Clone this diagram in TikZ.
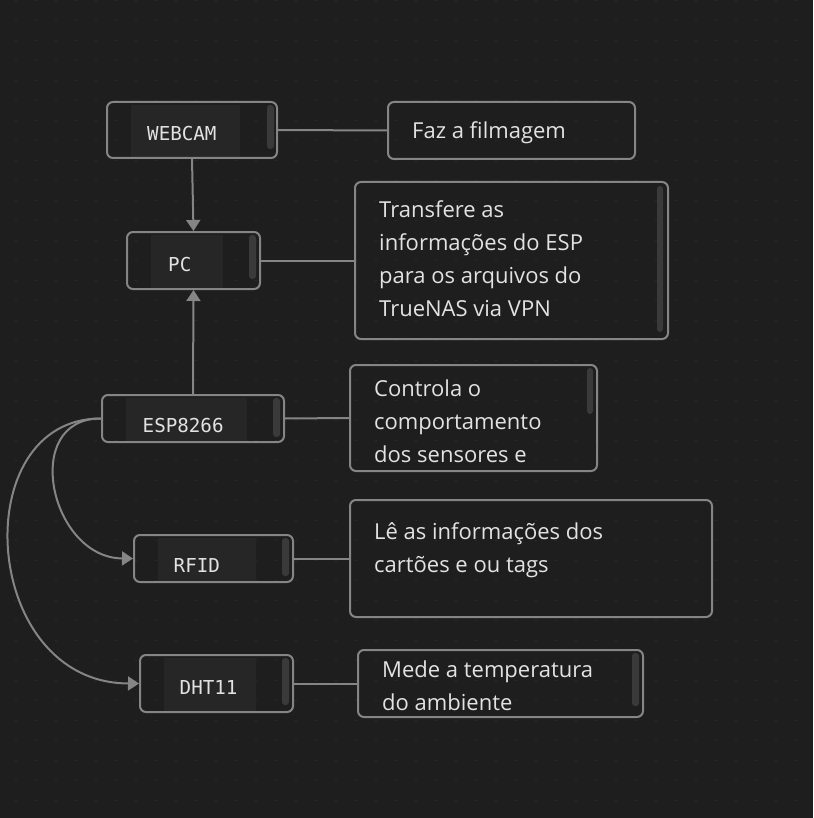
\documentclass[tikz,border=0pt]{standalone}
\usepackage{fontspec}
\setmainfont{Open Sans}
\newfontfamily\monof{DejaVu Sans Mono}
\usetikzlibrary{arrows.meta}
\definecolor{bg}{HTML}{1E1E1E}
\definecolor{dotc}{HTML}{2A2A2A}
\definecolor{edgec}{HTML}{858585}
\definecolor{innerc}{HTML}{262626}
\definecolor{scrollc}{HTML}{3A3A3A}
\definecolor{txtc}{HTML}{E2E2E2}
\tikzset{
  box/.style={draw=edgec, line width=2pt, rounded corners=6pt, inner sep=0pt, anchor=north west},
  monolabel/.style={anchor=base west, inner sep=0pt, text=txtc, font=\monof\fontsize{19.2}{22}\selectfont},
  desc/.style={anchor=base west, inner sep=0pt, text=txtc, font=\fontsize{22}{33}\selectfont},
  conn/.style={draw=edgec, line width=2pt},
  arr/.style={conn, -{Triangle[length=11pt,width=14pt]}},
  scrollbar/.style={fill=scrollc, rounded corners=3pt},
  innerbox/.style={fill=innerc}
}
\newcommand{\descbox}[1]{\parbox[t]{320pt}{\raggedright #1}}
\begin{document}
\begin{tikzpicture}[x=1pt,y=-1pt]
\fill[bg] (0,0) rectangle (813,818);
\useasboundingbox (0,0) rectangle (813,818);
\foreach \i in {0,...,39}{
  \foreach \j in {0,...,40}{
    \fill[dotc] ({16+20*\i-0.7},{0.7+20*\j-0.7}) rectangle ++(1.4,1.4);
  }
}
% ---- left boxes: inner panels and scrollbars
\fill[innerbox] (131,105) rectangle (240,157);
\fill[scrollbar] (267,105) rectangle (274,149);
\fill[innerbox] (151,235) rectangle (223,288);
\fill[scrollbar] (249,235) rectangle (256,279);
\fill[innerbox] (126,398) rectangle (247,441);
\fill[scrollbar] (273,398) rectangle (280,437);
\fill[innerbox] (158,538) rectangle (256,581);
\fill[scrollbar] (282,538) rectangle (289,576);
\fill[innerbox] (164,658) rectangle (256,711);
\fill[scrollbar] (282,658) rectangle (289,705);
% ---- right boxes scrollbars
\fill[scrollbar] (657,186) rectangle (663,332);
\fill[scrollbar] (587,368) rectangle (593,414);
\fill[scrollbar] (632,653) rectangle (639,706);
% ---- boxes
\node[box, minimum width=170pt, minimum height=56pt] (webcam) at (106,101) {};
\node[box, minimum width=133pt, minimum height=57pt] (pc) at (126,231) {};
\node[box, minimum width=182pt, minimum height=47pt] (esp) at (101,394) {};
\node[box, minimum width=159pt, minimum height=47pt] (rfid) at (133,534) {};
\node[box, minimum width=153pt, minimum height=57pt] (dht) at (139,654) {};
\node[box, minimum width=247pt, minimum height=57pt] (faz) at (387,101) {};
\node[box, minimum width=313pt, minimum height=157pt] (transf) at (354,181) {};
\node[box, minimum width=247pt, minimum height=106pt] (ctrl) at (349,364) {};
\node[box, minimum width=362pt, minimum height=117pt] (le) at (349,499) {};
\node[box, minimum width=285pt, minimum height=67pt] (mede) at (357,649) {};
% ---- labels
\node[monolabel] (webcamt) at (147,140.7) {WEBCAM};
\node[monolabel] (pct) at (168,271) {PC};
\node[monolabel] (espt) at (142.5,432.7) {ESP8266};
\node[monolabel] (rfidt) at (173.5,572.7) {RFID};
\node[monolabel] (dhtt) at (179.5,694) {DHT11};
\node[desc] (fazt) at (412,138.3) {Faz a filmagem};
\node[desc] (transft) at (379,218) {\descbox{Transfere as\\informações do ESP\\para os arquivos do\\TrueNAS via VPN}};
\node[desc] (ctrlt) at (374,396) {\descbox{Controla o\\comportamento\\dos sensores e}};
\node[desc] (let) at (374,539) {\descbox{Lê as informações dos\\cartões e ou tags}};
\node[desc] (medet) at (382,677.3) {\descbox{Mede a temperatura\\do ambiente}};
% ---- connectors
\draw[conn] (webcam.east) -- (faz.west);
\draw[conn] (pc.east) -- (transf.west);
\draw[conn] (esp.east) -- (ctrl.west);
\draw[conn] (rfid.east) -- (le.west);
\draw[conn] (dht.east) -- (mede.west);
\draw[arr] (webcam.south) -- (pc.north);
\draw[arr] (esp.north) -- (pc.south);
\draw[arr] (esp.west) .. controls (20,418) and (50,558) .. (rfid.west);
\draw[arr] (esp.west) .. controls (-35,418) and (-20,683) .. (dht.west);
\end{tikzpicture}
\end{document}
